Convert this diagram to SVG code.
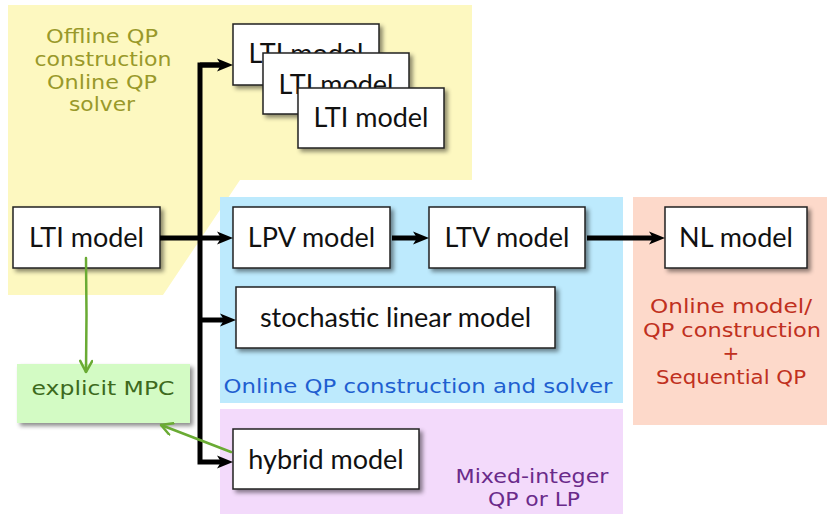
<svg xmlns="http://www.w3.org/2000/svg" width="827" height="514" viewBox="0 0 827 514">
<style>
.node rect{fill:#fff;stroke:#222;stroke-width:1.5;filter:url(#sh)}
.node text{font-family:Lato,"Open Sans",sans-serif;font-size:27px;fill:#111;text-anchor:middle}
.hand{font-family:"DejaVu Sans","Noto Sans",sans-serif;font-size:20px;text-anchor:middle}
.blk{stroke:#000;stroke-width:5;fill:none;stroke-linejoin:miter}
.grn{stroke:#6aab34;stroke-width:2.5;fill:none;stroke-linecap:round}
</style>
<defs>
<filter id="sh" x="-10%" y="-10%" width="130%" height="140%">
<feDropShadow dx="3" dy="3" stdDeviation="2" flood-color="#000" flood-opacity="0.45"/>
</filter>
<marker id="ab" viewBox="0 0 16 14" refX="4" refY="7" markerWidth="16" markerHeight="14" orient="auto" markerUnits="userSpaceOnUse">
<path d="M0,0.5 L16,7 L0,13.5 L4,7 z" fill="#000"/>
</marker>
<marker id="ag" viewBox="0 0 14 14" refX="13" refY="7" markerWidth="14" markerHeight="14" orient="auto" markerUnits="userSpaceOnUse">
<path d="M2,1 L13,7 L2,13" fill="none" stroke="#6aab34" stroke-width="2.5" stroke-linecap="round"/>
</marker>
</defs>
<g id="regions">
<polygon points="8,5 472,5 472,180 240,180 163,295 8,295" fill="#fdf8c0"/>
<rect x="220" y="197" width="403" height="206" fill="#bdeafd"/>
<rect x="220" y="409" width="403" height="105" fill="#f3dafb"/>
<rect x="633" y="197" width="194" height="228" fill="#fdd9ca"/>
<rect id="explicit" x="17" y="364" width="173" height="59" fill="#d3fbc4" filter="url(#sh)"/>
</g>
<g id="labels">
<text class="hand" fill="#99992a" x="102" y="43" textLength="112" lengthAdjust="spacingAndGlyphs">Offline QP</text>
<text class="hand" fill="#99992a" x="103" y="66" textLength="137" lengthAdjust="spacingAndGlyphs">construction</text>
<text class="hand" fill="#99992a" x="102" y="89" textLength="110" lengthAdjust="spacingAndGlyphs">Online QP</text>
<text class="hand" fill="#99992a" x="102" y="111" textLength="66" lengthAdjust="spacingAndGlyphs">solver</text>
<text class="hand" fill="#3d6a1d" x="103" y="395" textLength="143" lengthAdjust="spacingAndGlyphs">explicit MPC</text>
<text class="hand" fill="#1f5fd0" x="418" y="393" textLength="389" lengthAdjust="spacingAndGlyphs">Online QP construction and solver</text>
<text class="hand" fill="#c03020" x="731" y="313" textLength="162" lengthAdjust="spacingAndGlyphs">Online model/</text>
<text class="hand" fill="#c03020" x="732" y="337" textLength="178" lengthAdjust="spacingAndGlyphs">QP construction</text>
<text class="hand" fill="#c03020" x="731" y="360">+</text>
<text class="hand" fill="#c03020" x="731" y="384" textLength="150" lengthAdjust="spacingAndGlyphs">Sequential QP</text>
<text class="hand" fill="#6a2a8a" x="532" y="483" textLength="153" lengthAdjust="spacingAndGlyphs">Mixed-integer</text>
<text class="hand" fill="#6a2a8a" x="534" y="506" textLength="92" lengthAdjust="spacingAndGlyphs">QP or LP</text>
</g>
<g id="lti1" class="node"><rect x="233" y="24" width="146" height="61"/><text x="306" y="63">LTI model</text></g>
<g id="lti2" class="node"><rect x="263" y="53" width="146" height="61"/><text x="336" y="94">LTI model</text></g>
<g id="lti3" class="node"><rect x="298" y="88" width="146" height="60"/><text x="371" y="127">LTI model</text></g>
<g id="lti" class="node"><rect x="13" y="207" width="147" height="61"/><text x="86.5" y="247">LTI model</text></g>
<g id="lpv" class="node"><rect x="233" y="207" width="157" height="61"/><text x="311.5" y="247">LPV model</text></g>
<g id="ltv" class="node"><rect x="429" y="207" width="156" height="61"/><text x="507" y="247">LTV model</text></g>
<g id="nl" class="node"><rect x="665" y="207" width="142" height="61"/><text x="736" y="247">NL model</text></g>
<g id="stoch" class="node"><rect x="236" y="287" width="319" height="61"/><text x="395.5" y="327">stochastic linear model</text></g>
<g id="hybrid" class="node"><rect x="233" y="429" width="186" height="60"/><text x="326" y="469">hybrid model</text></g>
<g id="connectors">
<path class="blk" d="M160,238 H221" marker-end="url(#ab)"/>
<path class="blk" d="M221,65 H200 V462 H221" marker-end="url(#ab)"/>
<path class="blk" d="M200,65 H221" marker-end="url(#ab)"/>
<path class="blk" d="M200,320 H224" marker-end="url(#ab)"/>
<path class="blk" d="M392,238 H417" marker-end="url(#ab)"/>
<path class="blk" d="M587,238 H653" marker-end="url(#ab)"/>
<path class="grn" d="M86,258 Q87,315 86,372" marker-end="url(#ag)"/>
<path class="grn" d="M231,452 L161,425" marker-end="url(#ag)"/>
</g>
</svg>
